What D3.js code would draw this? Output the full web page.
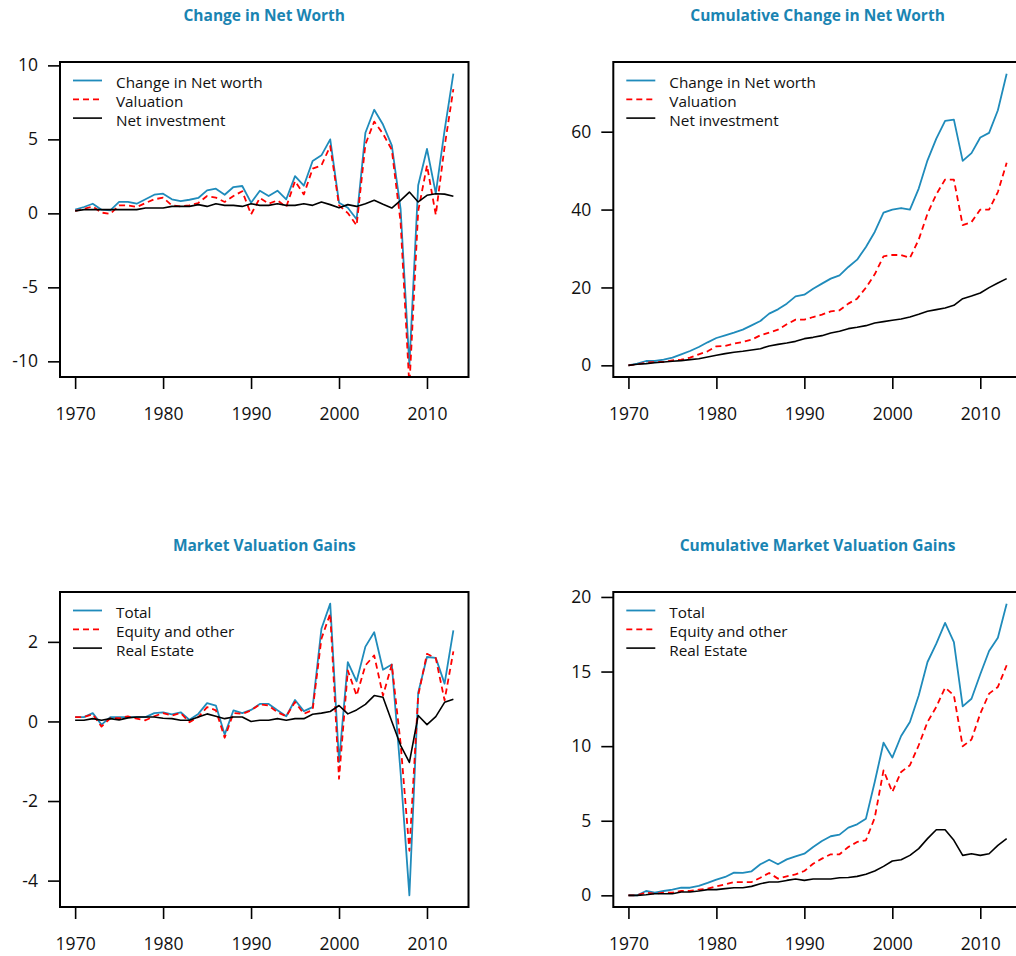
<!DOCTYPE html>
<html>
<head>
<meta charset="utf-8">
<script src="https://cdn.jsdelivr.net/npm/d3@7"></script>
<style>
  html, body { margin: 0; padding: 0; background: #fff; }
  svg { display: block; }
  text { font-family: "Open Sans", "Noto Sans", sans-serif; }
</style>
</head>
<body>
<svg id="chart" width="1016" height="956"></svg>
<script>
// ---------- data ----------
const years = [1970,1971,1972,1973,1974,1975,1976,1977,1978,1979,
               1980,1981,1982,1983,1984,1985,1986,1987,1988,1989,
               1990,1991,1992,1993,1994,1995,1996,1997,1998,1999,
               2000,2001,2002,2003,2004,2005,2006,2007,2008,2009,
               2010,2011,2012,2013];
const xTicks = [1970, 1980, 1990, 2000, 2010];

// Panel 1: Change in Net Worth
const changeNetWorth = [0.25,0.43,0.65,0.25,0.2,0.77,0.77,0.65,0.95,1.26,
  1.33,0.95,0.83,0.92,1.04,1.55,1.67,1.26,1.78,1.85,
  0.72,1.53,1.17,1.53,0.95,2.52,1.87,3.54,3.92,5.0,
  0.72,0.38,-0.4,5.45,7.0,6.0,4.6,0.3,-10.27,1.9,
  4.35,1.35,5.6,9.44];
const valuation = [0.16,0.3,0.47,0.05,-0.03,0.54,0.54,0.43,0.7,0.95,
  1.06,0.54,0.47,0.54,0.7,1.17,1.06,0.77,1.17,1.5,
  -0.07,1.04,0.65,0.88,0.43,2.18,1.28,3.02,3.24,4.55,
  0.54,0.02,-0.81,4.66,6.2,5.38,4.3,-0.6,-11.7,0.15,
  3.24,-0.1,4.5,8.4];
const netInvestment = [0.16,0.25,0.25,0.25,0.25,0.25,0.25,0.25,0.36,0.36,
  0.36,0.47,0.47,0.47,0.59,0.47,0.65,0.54,0.54,0.47,
  0.65,0.54,0.54,0.65,0.54,0.54,0.65,0.54,0.77,0.59,
  0.38,0.59,0.47,0.65,0.88,0.61,0.36,0.88,1.44,0.77,
  1.22,1.33,1.3,1.15];
const yTicks1 = [-10, -5, 0, 5, 10];

// Panel 2: Cumulative Change in Net Worth
const cumChangeNetWorth = [0,0.43,1.11,1.11,1.46,1.97,2.83,3.68,4.71,5.91,
  7.02,7.71,8.39,9.16,10.27,11.39,13.27,14.38,15.84,17.72,
  18.15,19.69,20.98,22.26,23.12,25.26,27.14,30.39,34.25,39.2,
  40.0,40.4,40.0,45.4,52.65,58.2,62.8,63.1,52.5,54.5,
  58.5,59.7,65.5,74.9];
const cumValuation = [0,0.26,0.68,0.86,0.86,1.28,1.46,1.97,2.83,3.6,
  4.88,4.97,5.56,5.99,6.59,7.71,8.39,9.16,10.53,11.73,
  11.73,12.41,13.01,13.87,14.13,15.84,17.12,19.95,23.37,28.0,
  28.34,28.34,27.57,32.28,38.96,43.92,47.7,47.7,36.0,36.8,
  40.0,40.0,44.5,52.0];
const cumNetInvestment = [0,0.26,0.43,0.68,0.86,1.03,1.2,1.46,1.71,2.14,
  2.57,3.0,3.34,3.6,3.94,4.28,4.97,5.39,5.74,6.16,
  6.85,7.19,7.62,8.3,8.73,9.42,9.76,10.19,10.87,11.22,
  11.56,11.9,12.41,13.1,13.87,14.3,14.73,15.41,17.12,17.8,
  18.58,19.95,21.15,22.26];
const yTicks2 = [0, 20, 40, 60];

// Panel 3: Market Valuation Gains
const totalGains = [0.11,0.11,0.21,-0.08,0.11,0.11,0.11,0.11,0.11,0.21,
  0.23,0.18,0.23,0.04,0.19,0.46,0.4,-0.33,0.28,0.21,
  0.29,0.44,0.44,0.28,0.13,0.54,0.26,0.36,2.33,2.96,
  -1.02,1.49,1.01,1.88,2.24,1.3,1.43,-1.28,-4.37,0.72,
  1.62,1.6,0.95,2.29];
const equityGains = [0.11,0.11,0.18,-0.13,0.08,0.08,0.13,0.07,0.03,0.13,
  0.21,0.15,0.21,-0.02,0.11,0.36,0.28,-0.41,0.21,0.19,
  0.28,0.43,0.4,0.23,0.13,0.49,0.19,0.29,2.08,2.71,
  -1.44,1.28,0.65,1.41,1.66,0.65,1.43,-0.55,-3.25,0.65,
  1.7,1.59,0.53,1.76];
const realEstateGains = [0.03,0.03,0.07,0.03,0.07,0.04,0.09,0.11,0.11,0.11,
  0.08,0.07,0.03,0.03,0.11,0.19,0.13,0.07,0.11,0.11,
  0,0.03,0.03,0.07,0.03,0.07,0.07,0.18,0.21,0.25,
  0.4,0.19,0.29,0.43,0.65,0.61,0.0,-0.6,-1.03,0.15,
  -0.08,0.12,0.48,0.56];
const yTicks3 = [-4, -2, 0, 2];

// Panel 4: Cumulative Market Valuation Gains
const cumTotalGains = [0,0,0.29,0.18,0.29,0.38,0.51,0.51,0.63,0.83,
  1.05,1.23,1.52,1.5,1.61,2.08,2.39,2.08,2.41,2.61,
  2.79,3.24,3.64,3.96,4.07,4.54,4.76,5.14,7.6,10.23,
  9.23,10.68,11.62,13.4,15.64,16.87,18.26,16.98,12.67,13.18,
  14.82,16.38,17.27,19.55];
const cumEquityGains = [0,0,0.18,0.11,0.18,0.18,0.29,0.29,0.38,0.45,
  0.6,0.74,0.89,0.89,0.89,1.18,1.5,1.12,1.27,1.41,
  1.63,2.12,2.46,2.75,2.75,3.24,3.58,3.69,5.2,8.38,
  6.93,8.27,8.72,10.06,11.62,12.63,13.92,13.41,9.99,10.44,
  12.18,13.52,13.97,15.42];
const cumRealEstateGains = [0,0,0.04,0.11,0.11,0.11,0.22,0.22,0.29,0.38,
  0.38,0.45,0.51,0.51,0.6,0.78,0.89,0.89,1.0,1.09,
  1.0,1.09,1.09,1.09,1.18,1.2,1.27,1.41,1.63,1.94,
  2.3,2.39,2.68,3.13,3.8,4.4,4.4,3.69,2.68,2.79,
  2.68,2.79,3.35,3.8];
const yTicks4 = [0, 5, 10, 15, 20];

const titles = ["Change in Net Worth", "Cumulative Change in Net Worth",
                "Market Valuation Gains", "Cumulative Market Valuation Gains"];
const legend1 = ["Change in Net worth", "Valuation", "Net investment"];
const legend2 = ["Total", "Equity and other", "Real Estate"];

// ---------- drawing ----------
const BLUE = "#1f8bbb", RED = "#ff0000", BLACK = "#000000", TITLE = "#1a84b2";
const styles = [
  {color: BLUE, width: 1.8, dash: null},
  {color: RED, width: 1.8, dash: "6,4"},
  {color: BLACK, width: 1.6, dash: null}
];

const panels = [
  {left: 60,    top: 62,  title: titles[0], series: [changeNetWorth, valuation, netInvestment], legend: legend1, yTicks: yTicks1},
  {left: 613.3, top: 62,  title: titles[1], series: [cumChangeNetWorth, cumValuation, cumNetInvestment], legend: legend1, yTicks: yTicks2},
  {left: 60,    top: 592, title: titles[2], series: [totalGains, equityGains, realEstateGains], legend: legend2, yTicks: yTicks3},
  {left: 613.3, top: 592, title: titles[3], series: [cumTotalGains, cumEquityGains, cumRealEstateGains], legend: legend2, yTicks: yTicks4}
];
const W = 408.5, H = 315;

const svg = d3.select("#chart");

function padExtent(arr) {
  const [a, b] = d3.extent(arr);
  const p = (b - a) * 0.04;
  return [a - p, b + p];
}

panels.forEach((p, i) => {
  const g = svg.append("g").attr("transform", `translate(${p.left},${p.top})`);

  const x = d3.scaleLinear().domain(padExtent(years)).range([0, W]);
  const y = d3.scaleLinear().domain(padExtent(p.series[0])).range([H, 0]);

  const clipId = "clip" + i;
  g.append("clipPath").attr("id", clipId)
    .append("rect").attr("x", 0).attr("y", 0).attr("width", W).attr("height", H);

  // title
  g.append("text")
    .attr("x", W / 2).attr("y", -41)
    .attr("text-anchor", "middle")
    .attr("fill", TITLE)
    .attr("font-weight", "bold")
    .attr("font-size", "15.5px")
    .text(p.title);

  // lines
  const lines = g.append("g").attr("clip-path", `url(#${clipId})`);
  const lineGen = d3.line().x((d, k) => x(years[k])).y(d => y(d));
  p.series.forEach((s, k) => {
    lines.append("path")
      .datum(s)
      .attr("d", lineGen)
      .attr("fill", "none")
      .attr("stroke", styles[k].color)
      .attr("stroke-width", styles[k].width)
      .attr("stroke-linejoin", "round")
      .attr("stroke-dasharray", styles[k].dash);
  });

  // x axis
  const xAxis = g.append("g").attr("transform", `translate(0,${H})`)
    .call(d3.axisBottom(x).tickValues(xTicks).tickFormat(d3.format("d")).tickSize(12).tickPadding(19));
  // y axis
  const yAxis = g.append("g")
    .call(d3.axisLeft(y).tickValues(p.yTicks).tickFormat(d3.format("d")).tickSize(12).tickPadding(10));
  [xAxis, yAxis].forEach(a => {
    a.select(".domain").remove();
    a.selectAll(".tick line").attr("stroke", "#000").attr("stroke-width", 1.6);
    a.selectAll(".tick text").attr("font-size", "17.5px").attr("fill", "#111")
      .attr("font-family", '"Open Sans", "Noto Sans", sans-serif');
  });
  yAxis.selectAll(".tick text").text(d => d < 0 ? "-" + Math.abs(d) : d);

  // box
  g.append("rect").attr("x", 0).attr("y", 0).attr("width", W).attr("height", H)
    .attr("fill", "none").attr("stroke", "#000").attr("stroke-width", 2);

  // legend
  const lg = g.append("g");
  p.legend.forEach((name, k) => {
    const ly = 18.5 + k * 18.8;
    lg.append("line")
      .attr("x1", 13).attr("x2", 42).attr("y1", ly).attr("y2", ly)
      .attr("stroke", styles[k].color)
      .attr("stroke-width", styles[k].width)
      .attr("stroke-dasharray", styles[k].dash);
    lg.append("text")
      .attr("x", 56).attr("y", ly + 7.5)
      .attr("font-size", "15.3px").attr("fill", "#111")
      .text(name);
  });
});
</script>
</body>
</html>
